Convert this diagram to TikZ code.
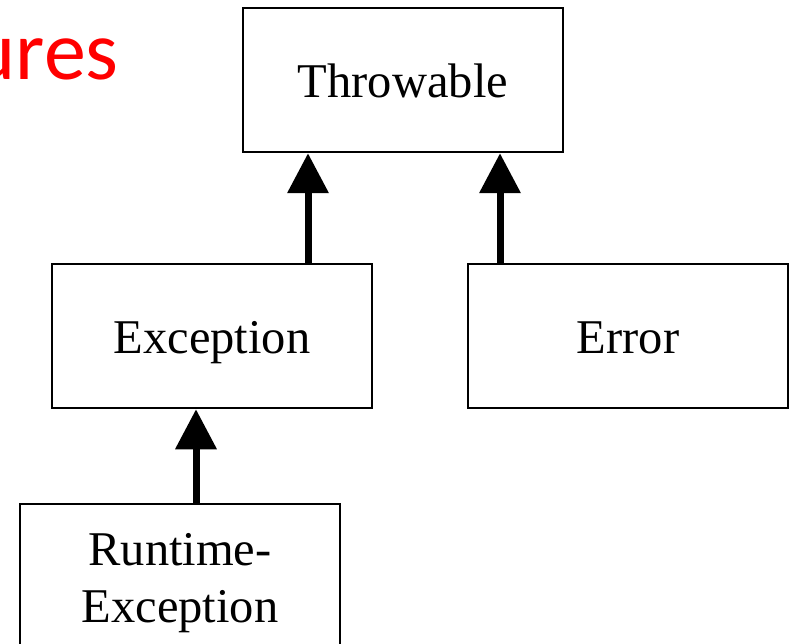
\documentclass[tikz,border=0pt]{standalone}
\usepackage{fontspec}
\setmainfont{Liberation Serif}
\newfontfamily\calib{Carlito}
\usetikzlibrary{arrows.meta}
\begin{document}
\begin{tikzpicture}[x=1pt,y=-1pt,
  box/.style={draw=black,line width=2.5pt,fill=white,minimum width=320pt,minimum height=144pt,inner sep=0pt},
  cls/.style={box,align=center,text height=35pt,text depth=0pt,font=\fontsize{48.5}{57}\selectfont},
  inh/.style={line width=7pt,-{Triangle[length=40pt,width=40pt]}}]
\useasboundingbox (0,0) rectangle (792,644);
\clip (0,0) rectangle (792,644);
\node[anchor=base east,text=red,font=\calib\fontsize{84}{96}\selectfont,inner sep=0pt] (title) at (119,80) {ures};
\node[cls] (thr) at (403,80) {Throwable};
\node[cls] (exc) at (212,336) {Exception};
\node[cls] (err) at (628,336) {Error};
\node[box,minimum height=240pt] (rt) at (180,624) {};
\node[align=center,font=\fontsize{48.5}{57}\selectfont,inner sep=0pt] (rtl) at (180,583) {Runtime-\\Exception};
\draw[inh] (exc.north -| 308,0) -- (thr.south -| 308,0);
\draw[inh] (err.north -| 500,0) -- (thr.south -| 500,0);
\draw[inh] (rt.north -| 196,0) -- (exc.south -| 196,0);
\end{tikzpicture}
\end{document}
